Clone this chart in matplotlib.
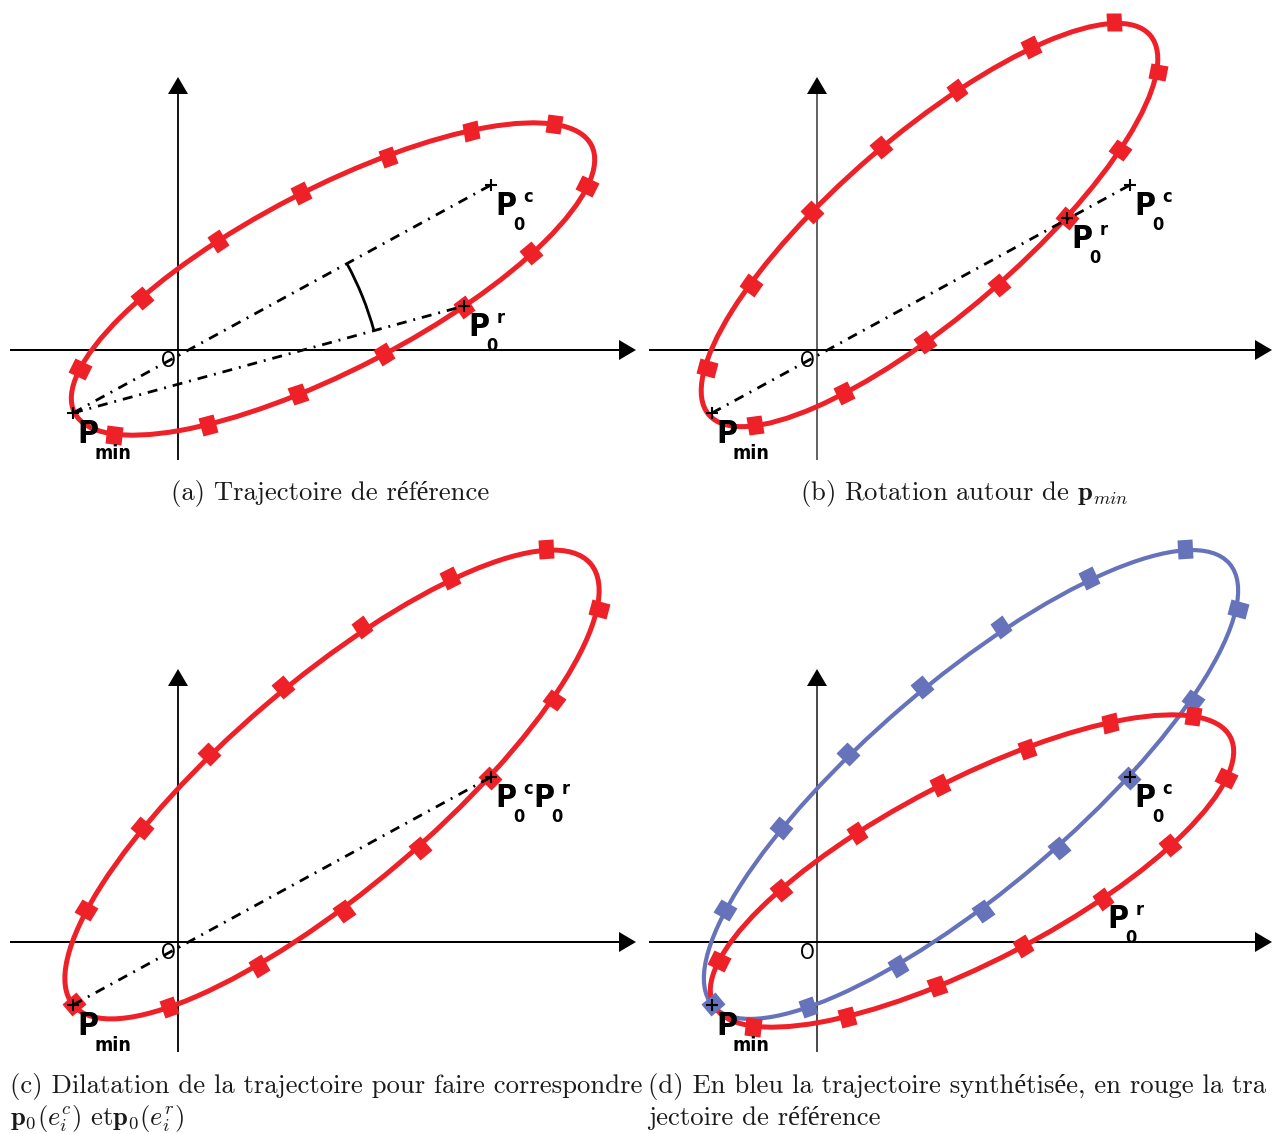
import numpy as np
import matplotlib.pyplot as plt
from matplotlib.patches import Ellipse, Arc
from matplotlib.markers import MarkerStyle
from matplotlib.transforms import Affine2D

plt.rcParams['mathtext.fontset'] = 'cm'

W, H = 1273, 1134
RED = '#ee2128'
BLUE = '#6672b9'
LABEL_FONT = ['DejaVu Sans']
CAP_FONT = ['cmr10', 'Liberation Serif']

# trajectories (units = pixels from O, y up): centre, semi-axes, tilt in deg
ref_center, ref_axes, ref_tilt = (155, 71), (291, 90.5), 27.4
rot_center, rot_axes, rot_tilt = (112.5, 125), (291, 90), 40.7
dil_center, dil_axes, dil_tilt = (154, 157.5), (340, 103.5), 40.5

# sampled points on each trajectory
ref_x = [376, 293, 210, 123, 40, -36, -98, -64, 30, 120, 206, 286, 353, 409]
ref_y = [226, 219, 193, 157, 109, 52, -19, -85, -75, -44, -4, 43, 97, 164]
rot_x = [297, 214, 140, 64, -5, -66, -110, -62, 27, 108, 182, 250, 303, 341]
rot_y = [328, 303, 260, 203, 138, 65, -18, -75, -43, 8, 65, 132, 200, 278]
dil_x = [368, 272, 184, 105, 31, -36, -92, -104, -9, 81, 166, 242, 312, 376, 421]
dil_y = [393, 364, 315, 255, 188, 114, 32, -62, -65, -24, 31, 94, 164, 242, 333]

# remarkable points
p_min = (-105, -63)
p0_c = (313, 165)
p0_r = (286, 44)
p0_r_rot = (250, 132)

captions = ['(a) Trajectoire de référence',
            r'(b) Rotation autour de $\mathbf{p}_{min}$',
            '(c) Dilatation de la trajectoire pour faire correspondre',
            r'$\mathbf{p}_0(e_i^c)$ et$\mathbf{p}_0(e_i^r)$',
            '(d) En bleu la trajectoire synthétisée, en rouge la tra',
            'jectoire de référence']

fig = plt.figure(figsize=(W / 100, H / 100), dpi=100)


def panel(x0, x1, y0, y1, ox, oy):
    ax = fig.add_axes([x0 / W, 1 - y1 / H, (x1 - x0) / W, (y1 - y0) / H])
    ax.set_xlim(x0 - ox, x1 - ox)
    ax.set_ylim(oy - y1, oy - y0)
    ax.axis('off')
    return ax


def frame(ax, x_end, lw_y=1.8):
    ax.arrow(-168, 0, x_end + 168, 0, width=2, head_width=20, head_length=17,
             length_includes_head=True, fc='k', ec='none', zorder=1)
    ax.arrow(0, -110, 0, 383, width=lw_y, head_width=20, head_length=17,
             length_includes_head=True, fc='k', ec='none', zorder=1)
    ax.text(-10, -11, 'O', family=LABEL_FONT, fontstretch='condensed',
            fontsize=15, ha='center', va='center')


def trajectory(ax, center, axes, tilt, xs, ys, color, lw=3.6):
    ax.add_patch(Ellipse(center, 2 * axes[0], 2 * axes[1], angle=tilt,
                         fill=False, ec=color, lw=lw, zorder=2))
    th = np.radians(tilt)
    for x, y in zip(xs, ys):
        dx, dy = x - center[0], y - center[1]
        u = (dx * np.cos(th) + dy * np.sin(th)) / axes[0]
        v = (-dx * np.sin(th) + dy * np.cos(th)) / axes[1]
        t = np.arctan2(v, u)
        ang = tilt + np.degrees(np.arctan2(axes[1] * np.cos(t), -axes[0] * np.sin(t)))
        m = MarkerStyle('s', transform=Affine2D().scale(1.05, 1.25).rotate_deg(ang))
        ax.plot(x, y, marker=m, ms=10.5, color=color, mec='none', ls='none', zorder=3)


def dashdot(ax, a, b):
    ax.plot([a[0], b[0]], [a[1], b[1]], color='k', lw=2,
            ls=(0, (3.6, 2.5, 0.7, 2.5)), zorder=4)


def cross(ax, p):
    ax.plot(p[0], p[1], marker='+', ms=8, mew=1.5, color='k', zorder=5)


def plabel(ax, p, sup=None, sub='0', dx=0):
    x, y = p[0] + dx, p[1]
    kw = dict(family=LABEL_FONT, fontstretch='condensed', weight='bold',
              color='k', zorder=6)
    ax.text(x + 4, y - 30, 'P', fontsize=23, ha='left', va='baseline', **kw)
    if sub == 'min':
        ax.text(x + 21, y - 46, 'min', fontsize=14, ha='left', va='baseline', **kw)
    else:
        ax.text(x + 28, y - 45, sub, fontsize=13, ha='center', va='baseline', **kw)
        ax.text(x + 37, y - 17, sup, fontsize=13, ha='center', va='baseline', **kw)


# (a) reference trajectory
ax = panel(0, 640, 0, 475, 178, 350)
frame(ax, 458)
trajectory(ax, ref_center, ref_axes, ref_tilt, ref_x, ref_y, RED)
dashdot(ax, p_min, p0_c)
dashdot(ax, p_min, p0_r)
a_r = np.degrees(np.arctan2(p0_r[1] - p_min[1], p0_r[0] - p_min[0]))
a_c = np.degrees(np.arctan2(p0_c[1] - p_min[1], p0_c[0] - p_min[0]))
ax.add_patch(Arc(p_min, 624, 624, theta1=a_r, theta2=a_c, color='k', lw=2, zorder=4))
for p in (p_min, p0_c, p0_r):
    cross(ax, p)
plabel(ax, p_min, sub='min')
plabel(ax, p0_c, 'c')
plabel(ax, p0_r, 'r')

# (b) rotation around p_min
ax = panel(640, 1273, 0, 475, 817, 350)
frame(ax, 455, lw_y=1.2)
trajectory(ax, rot_center, rot_axes, rot_tilt, rot_x, rot_y, RED)
dashdot(ax, p_min, p0_c)
for p in (p_min, p0_c, p0_r_rot):
    cross(ax, p)
plabel(ax, p_min, sub='min')
plabel(ax, p0_c, 'c')
plabel(ax, p0_r_rot, 'r')

# (c) dilatation
ax = panel(0, 640, 530, 1062, 178, 942)
frame(ax, 458)
trajectory(ax, dil_center, dil_axes, dil_tilt, dil_x, dil_y, RED)
dashdot(ax, p_min, p0_c)
for p in (p_min, p0_c):
    cross(ax, p)
plabel(ax, p_min, sub='min')
plabel(ax, p0_c, 'c')
plabel(ax, p0_c, 'r', dx=38)

# (d) synthesised (blue) vs reference (red)
ax = panel(640, 1273, 530, 1062, 817, 942)
frame(ax, 455, lw_y=1.4)
trajectory(ax, dil_center, dil_axes, dil_tilt, dil_x, dil_y, BLUE, lw=3.0)
trajectory(ax, ref_center, ref_axes, ref_tilt, ref_x, ref_y, RED)
for p in (p_min, p0_c):
    cross(ax, p)
plabel(ax, p_min, sub='min')
plabel(ax, p0_c, 'c')
plabel(ax, p0_r, 'r')

# captions
cap = dict(family=CAP_FONT, fontsize=19.2, va='baseline', color='#1a1a1a')
fig.text(330 / W, 1 - 500 / H, captions[0], ha='center', **cap)
fig.text(964 / W, 1 - 500 / H, captions[1], ha='center', **cap)
fig.text(10 / W, 1 - 1093 / H, captions[2], ha='left', **cap)
fig.text(10 / W, 1 - 1125 / H, captions[3], ha='left', **cap)
fig.text(648 / W, 1 - 1093 / H, captions[4], ha='left', **cap)
fig.text(648 / W, 1 - 1125 / H, captions[5], ha='left', **cap)

fig.savefig('out.png', dpi=100)
